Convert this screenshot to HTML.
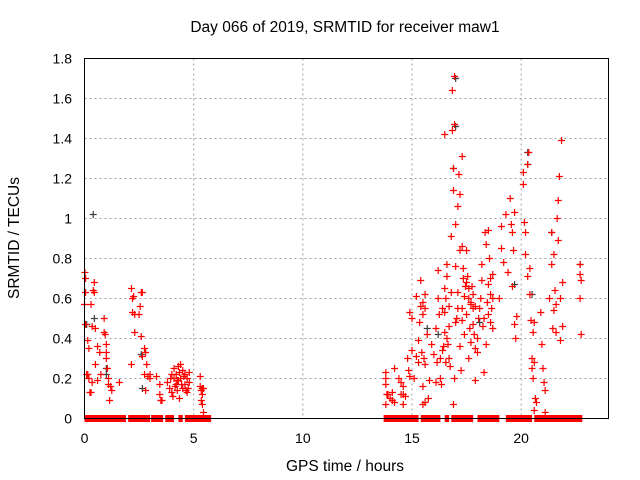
<!DOCTYPE html>
<html><head><meta charset="utf-8"><style>
body{margin:0;background:#fff;}
svg{display:block;font-family:"Liberation Sans",sans-serif;}
</style></head><body>
<svg id="chart" width="640" height="480" viewBox="0 0 640 480">
<rect width="640" height="480" fill="#fff"/>
<text x="345" y="32" text-anchor="middle" font-size="15.5">Day 066 of 2019, SRMTID for receiver maw1</text>
<text x="345" y="471" text-anchor="middle" font-size="15.5">GPS time / hours</text>
<text transform="translate(19,238) rotate(-90)" text-anchor="middle" font-size="15.5">SRMTID / TECUs</text>
<g id="grid"></g>
<g id="ticks"></g>
<g id="zeros"></g>
<g id="pts"></g>
<rect x="84.5" y="58.5" width="524" height="360" fill="none" stroke="#000" stroke-width="1"/>
</svg>
<script>
const xTicks=[0,5,10,15,20];
const yTicks=[0,0.2,0.4,0.6,0.8,1,1.2,1.4,1.6,1.8];
const yTickLabels=["0","0.2","0.4","0.6","0.8","1","1.2","1.4","1.6","1.8"];
const redHours=[0.02,0.05,0,0.05,0.05,0.15,0.2,0.15,0.2,0.25,0.3,0.3,0.35,0.4,0.45,0.45,0.5,0.5,0.6,0.6,0.7,0.75,0.9,0.9,0.95,1.0,1.0,1.0,1.05,1.1,1.1,1.15,1.2,1.25,1.6,
2.15,2.2,2.25,2.2,2.3,2.3,2.15,2.5,2.6,2.65,2.55,2.6,2.65,2.75,2.8,2.75,2.85,2.9,2.8,3.0,3.0,3.3,
3.45,3.45,3.5,3.55,3.8,3.9,4.0,4.0,4.1,4.1,4.2,4.2,4.3,4.3,4.35,4.4,4.4,4.5,4.5,4.6,4.6,4.7,4.7,4.75,4.8,4.8,4.05,4.25,3.95,4.15,
5.3,5.3,5.35,5.4,5.4,5.35,5.4,5.45,5.45,
13.8,13.8,13.8,13.85,13.9,13.8,14.0,14.1,14.1,14.2,14.2,14.4,14.5,14.5,14.6,14.6,14.6,14.7,14.8,14.85,14.9,14.9,15.0,15.0,15.1,15.2,15.2,15.3,15.3,15.35,15.4,15.4,15.45,15.5,15.5,15.5,15.6,15.6,15.6,15.7,15.75,15.8,15.9,16.0,16.1,16.2,16.2,16.3,16.3,16.35,16.4,16.4,16.5,16.5,16.5,16.55,16.6,16.6,16.6,16.7,16.7,16.8,16.8,16.85,16.85,16.9,16.9,16.9,16.95,16.95,16.95,17.0,17.0,17.0,17.1,17.1,17.15,17.2,17.2,17.2,17.25,17.3,17.3,17.3,17.35,17.4,17.4,17.5,17.5,17.6,17.6,17.7,17.7,17.8,17.8,17.9,17.9,18.0,18.1,18.2,18.2,18.3,18.3,18.35,18.4,18.4,18.5,18.5,18.55,18.6,18.6,18.7,18.7,
19.0,19.1,19.1,19.2,19.3,19.4,19.5,19.55,19.6,19.6,19.65,19.7,19.7,19.75,19.8,20.1,20.1,20.15,20.2,20.2,20.3,20.3,20.35,20.4,20.4,20.45,20.5,20.5,20.55,20.6,20.65,20.7,20.6,20.9,20.95,21.0,21.05,21.1,21.1,21.3,21.4,21.4,21.5,21.5,21.55,21.6,21.65,21.7,21.7,21.75,21.8,21.8,21.85,21.9,21.9,22.7,22.7,22.75,22.7,22.75,
15.5,15.55,15.6,16.1,16.15,16.25,16.45,16.5,16.55,16.65,16.7,16.75,17.05,17.1,17.3,17.35,17.45,17.5,17.55,17.6,17.65,17.7,17.75,17.8,17.85,17.9,18.0,18.05,18.15,18.25,18.45,18.5,18.6,18.65,18.7,4.25,4.35,4.45,4.55,4.65,0.1,0.35,20.55,20.6,21.45,21.6];
const redValues=[0.73,0.70,0.57,0.63,0.47,0.39,0.35,0.22,0.2,0.13,0.13,0.57,0.46,0.64,0.63,0.68,0.45,0.27,0.36,0.19,0.33,0.22,0.5,0.43,0.42,0.37,0.33,0.3,0.25,0.2,0.17,0.09,0.16,0.14,0.18,
0.65,0.6,0.61,0.53,0.52,0.43,0.27,0.52,0.63,0.63,0.56,0.41,0.31,0.35,0.33,0.22,0.27,0.21,0.14,0.22,0.2,0.21,
0.17,0.12,0.09,0.09,0.18,0.15,0.22,0.13,0.2,0.25,0.17,0.22,0.26,0.19,0.1,0.27,0.2,0.24,0.15,0.22,0.17,0.2,0.13,0.15,0.23,0.18,0.11,0.14,0.2,0.16,
0.21,0.16,0.14,0.15,0.12,0.09,0.07,0.03,0.15,
0.23,0.2,0.17,0.12,0.12,0.07,0.1,0.13,0.09,0.25,0.08,0.2,0.18,0.12,0.16,0.07,0.12,0.11,0.3,0.24,0.21,0.53,0.5,0.34,0.2,0.61,0.31,0.39,0.28,0.48,0.56,0.69,0.33,0.58,0.16,0.07,0.62,0.27,0.08,0.42,0.1,0.19,0.37,0.32,0.45,0.74,0.6,0.3,0.2,0.17,0.55,0.34,0.65,0.43,1.42,0.28,0.77,0.71,0.4,0.56,0.3,0.63,0.91,1.44,1.64,1.25,1.14,0.07,1.71,1.47,0.2,0.97,0.76,0.48,1.06,0.55,1.22,1.12,0.84,0.36,0.24,1.31,0.86,0.49,0.75,0.61,0.42,0.68,0.84,0.6,0.3,0.57,0.38,0.62,0.47,0.35,0.19,0.4,0.55,0.77,0.69,0.5,0.23,0.93,0.87,0.37,0.94,0.67,0.8,0.62,0.48,0.72,0.45,
0.6,0.96,0.85,0.78,1.02,0.73,1.1,0.97,0.93,0.66,0.84,1.03,0.47,0.4,0.51,1.23,1.17,0.98,0.93,0.82,0.71,1.27,1.33,0.75,0.62,0.49,0.3,0.25,0.2,0.48,0.1,0.08,0.04,0.53,0.37,0.25,0.18,0.14,0.03,0.6,0.93,0.77,0.82,0.54,0.64,0.43,1.0,1.09,0.89,1.21,0.6,0.39,1.39,0.68,0.46,0.77,0.72,0.69,0.6,0.42,
0.52,0.3,0.55,0.18,0.28,0.52,0.36,0.53,0.6,0.37,0.46,0.26,0.5,0.63,0.55,0.7,0.66,0.52,0.71,0.65,0.45,0.58,0.66,0.55,0.42,0.56,0.33,0.5,0.6,0.46,0.58,0.52,0.7,0.55,0.6,0.19,0.23,0.17,0.21,0.14,0.22,0.18,0.43,0.28,0.45,0.57];
const blackHours=[0.4,0.45,0.1,1.0,1.0,2.6,2.65,17.0,17.0,20.3,20.3,16.9,21.4,22.7,18.1,16.2,15.7,20.5,19.7];
const blackValues=[1.02,0.5,0.47,0.25,0.22,0.32,0.15,1.7,1.46,1.33,1.27,1.25,0.93,0.77,0.48,0.42,0.45,0.62,0.67];
const zeroRunStart=[0,2.0,3.05,3.7,4.3,4.6,13.7,15.4,16.5,16.8,18.0,19.3,20.6];
const zeroRunEnd=[1.9,3.0,3.6,4.1,4.5,5.8,15.3,16.3,16.7,17.8,19.0,20.5,22.8];

const NS="http://www.w3.org/2000/svg";
const X0=84.5,X1=608.5,Y0=418.5,Y1=58.5,XMAX=24,YMAX=1.8;
function sx(h){return X0+(X1-X0)*h/XMAX;}
function sy(v){return Y0-(Y0-Y1)*v/YMAX;}
function mk(tag,attrs,parent){const e=document.createElementNS(NS,tag);for(const k in attrs)e.setAttribute(k,attrs[k]);parent.appendChild(e);return e;}
const grid=document.getElementById('grid'),ticks=document.getElementById('ticks');
xTicks.forEach((t,i)=>{const x=sx(t);
 if(t>0){const g=mk('line',{x1:x,y1:Y1,x2:x,y2:Y0,stroke:'#a0a0a0','stroke-dasharray':'2,3'},grid);
 
 }
 const tl=mk('text',{x:x,y:443,'text-anchor':'middle','font-size':'14'},ticks);tl.textContent=String(t);
 
 
});
yTicks.forEach((t,i)=>{const y=sy(t);
 if(t>0&&t<YMAX){const g=mk('line',{x1:X0,y1:y,x2:X1,y2:y,stroke:'#a0a0a0','stroke-dasharray':'2,3'},grid);
 
 }
 const tl=mk('text',{x:72,y:y+5,'text-anchor':'end','font-size':'14'},ticks);tl.textContent=yTickLabels[i];
 
 
});
const zg=document.getElementById('zeros');
zeroRunStart.forEach((s,i)=>{const r=mk('rect',{x:sx(s),y:sy(0)-3.5,width:sx(zeroRunEnd[i])-sx(s),height:7,fill:'#ff0000'},zg);
 
 
});
const pg=document.getElementById('pts');
function cross(h,v,col,name){const x=sx(h),y=sy(v);
 const p=mk('path',{d:`M${x-3.5},${y}H${x+3.5}M${x},${y-3.5}V${y+3.5}`,stroke:col,'stroke-width':'1.2',fill:'none'},pg);
 
 
}
blackHours.forEach((h,i)=>cross(h,blackValues[i],'#404040','black-point'));
redHours.forEach((h,i)=>cross(h,redValues[i],'#ff0000','red-point'));
const zl=mk('line',{x1:X0,y1:Y0,x2:X1,y2:Y0,stroke:'#000'},pg);


</script>
</body></html>
